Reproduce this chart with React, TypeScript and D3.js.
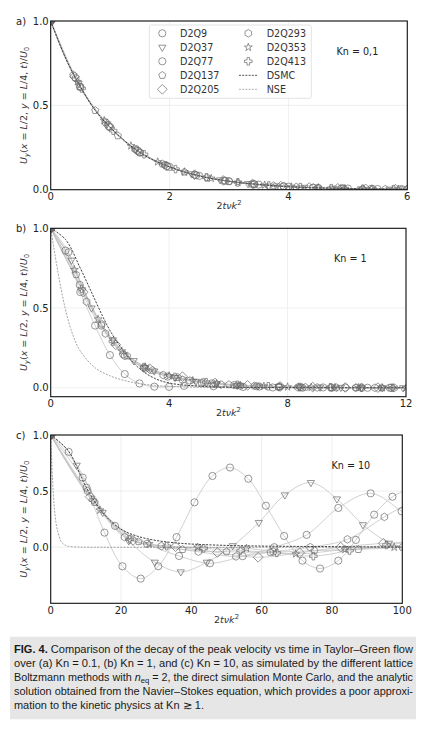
import React from 'react';
import * as d3 from 'd3';

type Pt = [number, number];

// lattice Boltzmann series, legend order
const lbNames = ['D2Q9', 'D2Q37', 'D2Q77', 'D2Q137', 'D2Q205', 'D2Q293', 'D2Q353', 'D2Q413'];
const lbMarkers = ['circle', 'triDown', 'circle', 'pentagon', 'diamond', 'hexagon', 'star', 'plus'];

// (a) Kn = 0.1
const aD2Q9: Pt[] = [[0, 1], [0.5, 0.61], [1, 0.37], [1.5, 0.22], [2, 0.135], [2.5, 0.082], [3, 0.05], [3.5, 0.03], [4, 0.018], [4.5, 0.011], [5, 0.007], [5.5, 0.004], [6, 0.0025]];
const aD2Q37: Pt[] = [[0, 1], [0.47, 0.63], [0.95, 0.39], [1.42, 0.24], [1.9, 0.15], [2.37, 0.094], [2.85, 0.058], [3.32, 0.036], [3.8, 0.022], [4.27, 0.014], [4.75, 0.009], [5.22, 0.005], [5.7, 0.003]];
const aD2Q77: Pt[] = [[0, 1], [0.49, 0.61], [0.98, 0.375], [1.47, 0.23], [1.96, 0.14], [2.45, 0.086], [2.94, 0.053], [3.43, 0.032], [3.92, 0.02], [4.41, 0.012], [4.9, 0.0075], [5.39, 0.0046], [5.88, 0.0028]];
const aD2Q137: Pt[] = [[0, 1], [0.38, 0.68], [0.75, 0.47], [1.13, 0.32], [1.5, 0.22], [1.88, 0.153], [2.25, 0.105], [2.63, 0.072], [3, 0.05], [3.38, 0.034], [3.75, 0.024], [4.13, 0.016], [4.5, 0.011], [4.88, 0.0076], [5.25, 0.0052], [5.63, 0.0036], [6, 0.0025]];
const aD2Q205: Pt[] = [[0, 1], [0.4, 0.67], [0.97, 0.38], [1.45, 0.235], [1.95, 0.14], [2.42, 0.089], [2.9, 0.055], [3.4, 0.033], [3.87, 0.021], [4.35, 0.013], [4.83, 0.008], [5.3, 0.005], [5.8, 0.003]];
const aD2Q293: Pt[] = [[0, 1], [0.42, 0.66], [0.92, 0.4], [1.42, 0.24], [1.92, 0.147], [2.42, 0.089], [2.92, 0.054], [3.42, 0.033], [3.92, 0.02], [4.42, 0.012], [4.92, 0.0073], [5.42, 0.0044], [5.92, 0.0027]];
const aD2Q353: Pt[] = [[0, 1], [0.45, 0.64], [0.9, 0.41], [1.35, 0.26], [1.8, 0.165], [2.25, 0.105], [2.7, 0.067], [3.15, 0.043], [3.6, 0.027], [4.05, 0.017], [4.5, 0.011], [4.95, 0.007], [5.4, 0.0045], [5.85, 0.0029]];
const aD2Q413: Pt[] = [[0, 1], [0.52, 0.6], [1.05, 0.35], [1.57, 0.21], [2.1, 0.122], [2.62, 0.073], [3.15, 0.043], [3.67, 0.025], [4.2, 0.015], [4.72, 0.009], [5.25, 0.0052], [5.77, 0.0031]];
const aDSMC: Pt[] = [[0, 1], [0.25, 0.78], [0.5, 0.61], [0.75, 0.47], [1, 0.37], [1.5, 0.22], [2, 0.135], [2.5, 0.082], [3, 0.05], [4, 0.018], [5, 0.007], [6, 0.0025]];
const aNSE: Pt[] = [[0, 1], [0.25, 0.78], [0.5, 0.61], [0.75, 0.47], [1, 0.37], [1.5, 0.22], [2, 0.135], [2.5, 0.082], [3, 0.05], [4, 0.018], [5, 0.007], [6, 0.0025]];

// (b) Kn = 1
const bD2Q9: Pt[] = [[0, 1], [0.5, 0.86], [1, 0.6], [1.5, 0.39], [2, 0.205], [2.5, 0.086], [3, 0.027], [3.5, 0.007], [4, 0.006], [4.5, 0.012], [5.5, 0.01], [6.5, 0.005], [7.5, 0.002], [8.5, 0], [9.5, 0], [10.5, 0], [11.5, 0]];
const bD2Q37: Pt[] = [[0, 1], [0.7, 0.8], [1.38, 0.5], [2.1, 0.3], [2.8, 0.17], [3.5, 0.105], [4.2, 0.065], [4.9, 0.04], [5.6, 0.025], [6.3, 0.016], [7, 0.01], [7.7, 0.007], [8.4, 0.005], [9.1, 0.003], [9.8, 0.002], [10.5, 0.001], [11.2, 0], [11.9, 0]];
const bD2Q77: Pt[] = [[0, 1], [0.98, 0.645], [1.71, 0.39], [2.45, 0.21], [3.2, 0.12], [3.95, 0.07], [4.7, 0.045], [5.45, 0.028], [6.2, 0.017], [6.95, 0.01], [7.7, 0.006], [8.45, 0.004], [9.2, 0.002], [9.95, 0.001], [10.7, 0], [11.45, 0]];
const bD2Q137: Pt[] = [[0, 1], [0.86, 0.71], [1.72, 0.4], [2.58, 0.2], [3.44, 0.11], [4.3, 0.065], [5.16, 0.036], [6.02, 0.02], [6.88, 0.012], [7.74, 0.007], [8.6, 0.004], [9.46, 0.002], [10.32, 0.001], [11.18, 0]];
const bD2Q205: Pt[] = [[0, 1], [1.1, 0.6], [2.2, 0.27], [3.34, 0.12], [4.45, 0.07], [5.55, 0.03], [6.65, 0.015], [7.75, 0.008], [8.85, 0.004], [9.95, 0.002], [11.05, 0.001]];
const bD2Q293: Pt[] = [[0, 1], [0.6, 0.85], [1.21, 0.54], [1.85, 0.34], [2.5, 0.2], [3.15, 0.125], [3.8, 0.08], [4.45, 0.05], [5.1, 0.032], [5.75, 0.02], [6.4, 0.013], [7.05, 0.008], [7.7, 0.005], [8.35, 0.003], [9, 0.002], [9.65, 0.001], [10.3, 0], [10.95, 0], [11.6, 0]];
const bD2Q353: Pt[] = [[0, 1], [0.8, 0.74], [1.6, 0.43], [2.4, 0.23], [3.2, 0.13], [4, 0.075], [4.8, 0.045], [5.6, 0.026], [6.4, 0.015], [7.2, 0.009], [8, 0.005], [8.8, 0.003], [9.6, 0.002], [10.4, 0.001], [11.2, 0], [12, 0]];
const bD2Q413: Pt[] = [[0, 1], [1.05, 0.62], [2.1, 0.29], [3.15, 0.13], [4.2, 0.068], [5.25, 0.035], [6.3, 0.018], [7.35, 0.009], [8.4, 0.005], [9.45, 0.003], [10.5, 0.001], [11.55, 0]];
const bDSMC: Pt[] = [[0, 1], [0.5, 0.93], [1, 0.75], [1.4, 0.59], [1.75, 0.45], [2, 0.36], [2.5, 0.22], [3, 0.12], [3.5, 0.06], [4, 0.03], [5, 0.01], [6, 0.004], [8, 0.001], [12, 0]];
const bNSE: Pt[] = [[0, 1], [0.25, 0.72], [0.5, 0.49], [0.75, 0.33], [1, 0.23], [1.5, 0.125], [2, 0.075], [2.5, 0.045], [3, 0.026], [3.5, 0.015], [4, 0.009], [5, 0.003], [6, 0.001], [8, 0], [12, 0]];

// (c) Kn = 10
const cD2Q9: Pt[] = [[0, 1], [5.1, 0.85], [10.2, 0.53], [15.3, 0.13], [20.4, -0.17], [25.6, -0.28], [30.6, -0.17], [35.8, 0.09], [40.9, 0.4], [46, 0.635], [51, 0.71], [56.2, 0.61], [61.2, 0.37], [66.4, 0.1], [71.6, -0.12], [76.6, -0.19], [81.8, -0.12], [86.8, 0.065], [92, 0.29], [97.2, 0.45], [102.3, 0.52]];
const cD2Q37: Pt[] = [[0, 1], [7.4, 0.73], [14.8, 0.31], [22.2, 0.056], [29.6, -0.134], [37, -0.22], [44.4, -0.134], [51.8, 0.013], [59.2, 0.22], [66.6, 0.466], [74, 0.576], [81.4, 0.43], [88.8, 0.2], [96.2, 0.035], [103.6, -0.06]];
const cD2Q77: Pt[] = [[0, 1], [9.1, 0.62], [18.3, 0.19], [27.4, 0.03], [36.5, -0.078], [45.3, -0.143], [54.6, -0.08], [63.6, 0.0], [72.8, 0.11], [81.8, 0.35], [91, 0.48], [99.8, 0.32], [109, 0.1]];
const cD2Q137: Pt[] = [[0, 1], [12.5, 0.4], [25, 0.05], [37.5, -0.02], [50, -0.04], [62.5, -0.045], [75, -0.03], [87.5, -0.02], [100, 0.0]];
const cD2Q205: Pt[] = [[0, 1], [11.2, 0.45], [23.4, 0.06], [35.5, 0.005], [47.4, -0.047], [59, -0.09], [70.8, -0.05], [82.5, 0.0], [94.6, 0.035], [106, 0.05]];
const cD2Q293: Pt[] = [[0, 1], [10.5, 0.5], [21, 0.09], [31.5, 0.01], [42, -0.04], [52.7, -0.083], [63.3, -0.04], [73.8, 0.0], [84.4, 0.07], [94.9, 0.27], [105, 0.45]];
const cD2Q353: Pt[] = [[0, 1], [14, 0.33], [28, 0.03], [41.8, 0.0], [55.7, -0.01], [69.7, -0.06], [83.7, -0.02], [97.7, 0.0], [111, 0.01]];
const cD2Q413: Pt[] = [[0, 1], [12, 0.42], [22.5, 0.07], [33, 0.01], [43.5, -0.01], [54, -0.03], [64.3, -0.05], [74.7, -0.08], [85, -0.03], [95.5, 0.02], [106, 0.06]];
const cDSMC: Pt[] = [[0, 1], [5, 0.86], [10, 0.54], [15, 0.3], [20, 0.16], [25, 0.095], [30, 0.06], [35, 0.04], [40, 0.028], [50, 0.016], [60, 0.01], [70, 0.007], [80, 0.005], [90, 0.003], [100, 0.002]];
const cNSE: Pt[] = [[0, 1], [0.5, 0.62], [1, 0.36], [1.5, 0.22], [2, 0.14], [3, 0.05], [4, 0.02], [5, 0.008], [7, 0.002], [10, 0], [100, 0]];

const yTicks = [0, 0.5, 1];

const panels = [
  { tag: 'a)', kn: 'Kn = 0,1', xMax: 6, xTicks: [0, 2, 4, 6], yMin: 0, left: 50.7, right: 407.3, top: 21, bottom: 189.7, knX: 336.5,
    lb: [aD2Q9, aD2Q37, aD2Q77, aD2Q137, aD2Q205, aD2Q293, aD2Q353, aD2Q413], dsmc: aDSMC, nse: aNSE, legend: true },
  { tag: 'b)', kn: 'Kn = 1', xMax: 12, xTicks: [0, 4, 8, 12], yMin: -0.056, left: 50.7, right: 406, top: 228.3, bottom: 396.7, knX: 334,
    lb: [bD2Q9, bD2Q37, bD2Q77, bD2Q137, bD2Q205, bD2Q293, bD2Q353, bD2Q413], dsmc: bDSMC, nse: bNSE, legend: false },
  { tag: 'c)', kn: 'Kn = 10', xMax: 100, xTicks: [0, 20, 40, 60, 80, 100], yMin: -0.5, left: 50.7, right: 402.3, top: 435, bottom: 603.3, knX: 331.5,
    lb: [cD2Q9, cD2Q37, cD2Q77, cD2Q137, cD2Q205, cD2Q293, cD2Q353, cD2Q413], dsmc: cDSMC, nse: cNSE, legend: false },
];

const FONT = 'DejaVu Sans, sans-serif';
const MARK = '#6a6a6a';

function poly(n: number, r: number, start: number) {
  const pts = d3.range(n).map(i => {
    const a = start + (i * 2 * Math.PI) / n;
    return [r * Math.cos(a), r * Math.sin(a)];
  });
  return 'M' + pts.map(p => p[0].toFixed(2) + ',' + p[1].toFixed(2)).join('L') + 'Z';
}

function markerPath(kind: string) {
  const r = 3.6;
  switch (kind) {
    case 'circle': return d3.symbol(d3.symbolCircle, Math.PI * r * r)() as string;
    case 'triDown': return poly(3, r * 1.15, Math.PI / 2);
    case 'pentagon': return poly(5, r * 1.05, -Math.PI / 2);
    case 'hexagon': return poly(6, r * 1.05, -Math.PI / 2);
    case 'diamond': return poly(4, r * 1.35, 0);
    case 'star': return d3.symbol(d3.symbolStar, (r * 1.15) ** 2 / 0.8908)() as string;
    default: return d3.symbol(d3.symbolCross, (20 * (r * 1.05) ** 2) / 9)() as string;
  }
}

function YLabel({ x, y }: { x: number; y: number }) {
  const it = { fontStyle: 'italic' as const };
  return (
    <text transform={`translate(${x},${y}) rotate(-90)`} textAnchor="middle" fontFamily={FONT} fontSize={9.5} fill="#333">
      <tspan {...it}>U</tspan>
      <tspan {...it} fontSize={6.8} dy={2.2}>y</tspan>
      <tspan dy={-2.2}>(</tspan>
      <tspan {...it}>x</tspan>
      <tspan> = </tspan>
      <tspan {...it}>L</tspan>
      <tspan>/2, </tspan>
      <tspan {...it}>y</tspan>
      <tspan> = </tspan>
      <tspan {...it}>L</tspan>
      <tspan>/4, </tspan>
      <tspan {...it}>t</tspan>
      <tspan>)/</tspan>
      <tspan {...it}>U</tspan>
      <tspan fontSize={6.8} dy={2.2}>0</tspan>
    </text>
  );
}

function XLabel({ x, y }: { x: number; y: number }) {
  return (
    <text x={x} y={y} textAnchor="middle" fontFamily={FONT} fontSize={9.5} fill="#333">
      <tspan>2</tspan>
      <tspan fontStyle="italic">tνk</tspan>
      <tspan fontSize={6.8} dy={-4}>2</tspan>
    </text>
  );
}

function Legend() {
  const rows = [33.3, 47.3, 61.3, 75.3, 89.3];
  const col1 = lbNames.slice(0, 5);
  const col2 = lbNames.slice(5);
  return (
    <g fontFamily={FONT} fontSize={9.6} fill="#333">
      <rect x={149.3} y={25} width={162} height={73.3} rx={2} fill="#fff" fillOpacity={0.85} stroke="#dcdcdc" strokeWidth={0.8} />
      {col1.map((n, i) => (
        <g key={n}>
          <path transform={`translate(162.3,${rows[i]})`} d={markerPath(lbMarkers[i])} fill="none" stroke={MARK} strokeWidth={0.7} />
          <text x={180} y={rows[i] + 3.5}>{n}</text>
        </g>
      ))}
      {col2.map((n, i) => (
        <g key={n}>
          <path transform={`translate(248.3,${rows[i]})`} d={markerPath(lbMarkers[i + 5])} fill="none" stroke={MARK} strokeWidth={0.7} />
          <text x={266.7} y={rows[i] + 3.5}>{n}</text>
        </g>
      ))}
      <line x1={239} x2={258} y1={rows[3]} y2={rows[3]} stroke="#2b2b2b" strokeWidth={0.8} strokeDasharray="2,1.2" />
      <text x={266.7} y={rows[3] + 3.5}>DSMC</text>
      <line x1={239} x2={258} y1={rows[4]} y2={rows[4]} stroke="#9a9a9a" strokeWidth={0.8} strokeDasharray="2,1.2" />
      <text x={266.7} y={rows[4] + 3.5}>NSE</text>
    </g>
  );
}

function Panel({ p, idx }: { p: typeof panels[number]; idx: number }) {
  const x = d3.scaleLinear().domain([0, p.xMax]).range([p.left, p.right]);
  const y = d3.scaleLinear().domain([p.yMin, 1]).range([p.bottom, p.top]);
  const line = d3.line<Pt>().x(d => x(d[0])).y(d => y(d[1])).curve(d3.curveCatmullRom.alpha(0.5));
  const clipId = `plotclip${idx}`;
  const fmt = d3.format('.1f');
  return (
    <g>
      <defs>
        <clipPath id={clipId}>
          <rect x={p.left} y={p.top} width={p.right - p.left} height={p.bottom - p.top} />
        </clipPath>
      </defs>
      {p.xTicks.map(t => (
        <line key={'gx' + t} x1={x(t)} x2={x(t)} y1={p.top} y2={p.bottom} stroke="#ebebeb" strokeWidth={0.8} />
      ))}
      {yTicks.map(t => (
        <line key={'gy' + t} x1={p.left} x2={p.right} y1={y(t)} y2={y(t)} stroke="#ebebeb" strokeWidth={0.8} />
      ))}
      <g clipPath={`url(#${clipId})`}>
        {p.lb.map((s, i) => (
          <path key={'l' + i} d={line(s) as string} fill="none" stroke="#c4c4c4" strokeWidth={0.8} />
        ))}
        <path d={line(p.nse) as string} fill="none" stroke="#9a9a9a" strokeWidth={0.9} strokeDasharray="2,1.3" />
        <path d={line(p.dsmc) as string} fill="none" stroke="#2b2b2b" strokeWidth={0.9} strokeDasharray="2.2,1.3" />
        {p.lb.map((s, i) =>
          s.map((d, j) => (
            <path key={`m${i}-${j}`} transform={`translate(${x(d[0])},${y(d[1])})`} d={markerPath(lbMarkers[i])}
              fill="none" stroke={MARK} strokeWidth={0.7} />
          ))
        )}
      </g>
      <rect x={p.left} y={p.top} width={p.right - p.left} height={p.bottom - p.top} fill="none" stroke="#111" strokeWidth={1.1} />
      <g fontFamily={FONT} fontSize={10} fill="#222">
        {yTicks.map(t => (
          <text key={'ty' + t} x={p.left - 2} y={y(t) + 3.6} textAnchor="end">{fmt(t)}</text>
        ))}
        {p.xTicks.map(t => (
          <text key={'tx' + t} x={x(t)} y={p.bottom + 10.2} textAnchor="middle">{t}</text>
        ))}
        <text x={16} y={p.top + 3.6}>{p.tag}</text>
      </g>
      <text x={p.knX} y={p.top + 34} fontFamily={FONT} fontSize={9.6} fill="#222">{p.kn}</text>
      <XLabel x={(p.left + p.right) / 2} y={p.bottom + 19.5} />
      <YLabel x={27} y={(p.top + p.bottom) / 2} />
      {p.legend && <Legend />}
    </g>
  );
}

function Caption() {
  const base = { x: 14, fontFamily: 'Liberation Sans, Arial, sans-serif', fontSize: 10.6, fill: '#1a1a1a', lengthAdjust: 'spacingAndGlyphs' as const };
  return (
    <g>
      <rect x={10} y={636.7} width={406} height={82.6} fill="#e6e6e6" />
      <text {...base} y={653} textLength={399}>
        <tspan fontWeight="bold">FIG. 4.</tspan> Comparison of the decay of the peak velocity vs time in Taylor–Green flow
      </text>
      <text {...base} y={667} textLength={399}>
        over (a) Kn = 0.1, (b) Kn = 1, and (c) Kn = 10, as simulated by the different lattice
      </text>
      <text {...base} y={681} textLength={399}>
        Boltzmann methods with <tspan fontStyle="italic">n</tspan><tspan fontSize={7.5} dy={2}>eq</tspan><tspan dy={-2}> = 2, the direct simulation Monte Carlo, and the analytic</tspan>
      </text>
      <text {...base} y={695} textLength={399}>
        solution obtained from the Navier–Stokes equation, which provides a poor approxi-
      </text>
      <text {...base} y={709} textLength={190}>
        mation to the kinetic physics at Kn ≳ 1.
      </text>
    </g>
  );
}

export default function App() {
  return (
    <svg width={424} height={730} viewBox="0 0 424 730" style={{ position: 'absolute', left: 0, top: 0, background: '#fff' }}>
      <rect x={0} y={0} width={424} height={730} fill="#fff" />
      {panels.map((p, i) => (
        <Panel key={p.tag} p={p} idx={i} />
      ))}
      <Caption />
    </svg>
  );
}
